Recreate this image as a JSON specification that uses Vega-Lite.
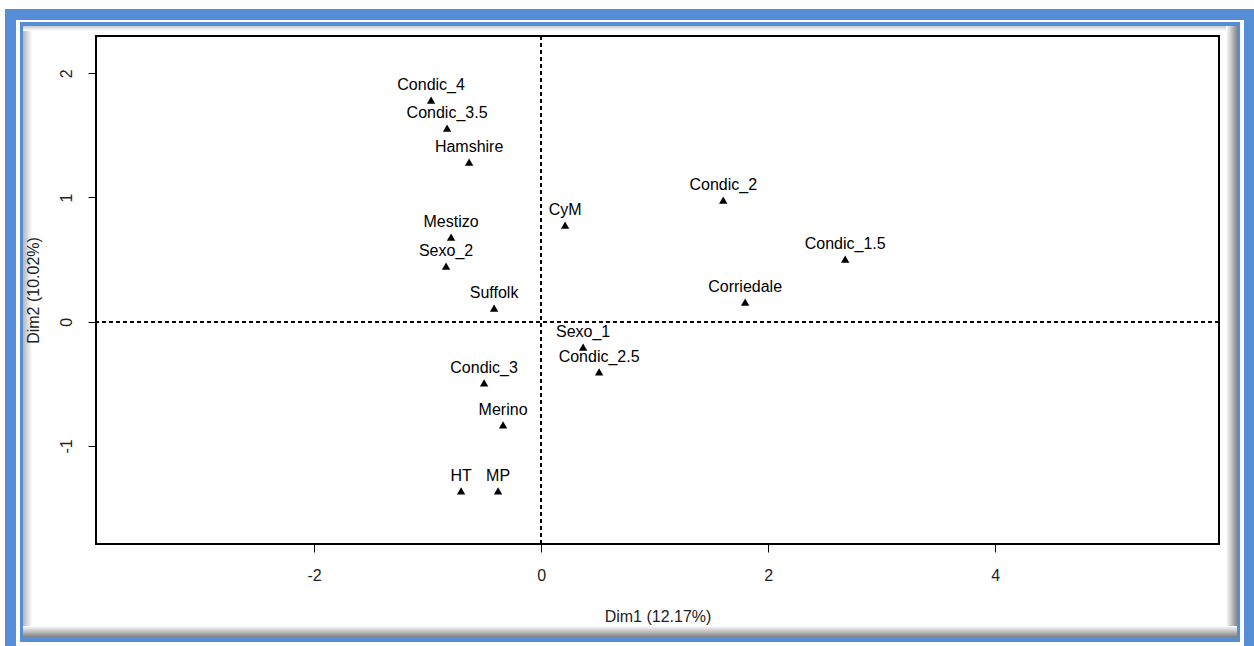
{
  "$schema": "https://vega.github.io/schema/vega-lite/v6.json",
  "width": 1123,
  "height": 508,
  "autosize": {"type": "none"},
  "padding": {"left": 96, "top": 36, "right": 35, "bottom": 102},
  "background": "white",
  "config": {"view": {"stroke": null}},
  "data": {"values": [
    {"label": "Condic_4", "x": -0.969, "y": 1.784},
    {"label": "Condic_3.5", "x": -0.828, "y": 1.558},
    {"label": "Hamshire", "x": -0.634, "y": 1.285},
    {"label": "Condic_2", "x": 1.604, "y": 0.979},
    {"label": "Condic_1.5", "x": 2.678, "y": 0.504},
    {"label": "Corriedale", "x": 1.797, "y": 0.158},
    {"label": "CyM", "x": 0.211, "y": 0.778},
    {"label": "Mestizo", "x": -0.793, "y": 0.681},
    {"label": "Sexo_2", "x": -0.837, "y": 0.448},
    {"label": "Suffolk", "x": -0.414, "y": 0.110},
    {"label": "Sexo_1", "x": 0.370, "y": -0.204},
    {"label": "Condic_2.5", "x": 0.511, "y": -0.405},
    {"label": "Condic_3", "x": -0.502, "y": -0.493},
    {"label": "Merino", "x": -0.335, "y": -0.831},
    {"label": "HT", "x": -0.705, "y": -1.362},
    {"label": "MP", "x": -0.379, "y": -1.362}
  ]},
  "encoding": {
    "x": {"field": "x", "type": "quantitative", "scale": {"domain": [-3.92, 5.97], "nice": false, "zero": false},
      "axis": {"values": [-2, 0, 2, 4], "labelExpr": "'' + datum.value", "title": "Dim1 (12.17%)", "grid": false, "domain": false,
        "ticks": true, "tickSize": 8, "tickColor": "black", "tickWidth": 1, "labelFont": "Liberation Sans", "labelFontSize": 16, "labelColor": "#222222",
        "labelPadding": 15, "titleFont": "Liberation Sans", "titleFontSize": 16, "titleFontWeight": "normal", "titleColor": "#222222", "titlePadding": 25, "zindex": 1}},
    "y": {"field": "y", "type": "quantitative", "scale": {"domain": [-1.79, 2.30], "nice": false, "zero": false},
      "axis": {"values": [-1, 0, 1, 2], "labelExpr": "'' + datum.value", "title": "Dim2 (10.02%)", "grid": false, "domain": false,
        "ticks": true, "tickSize": 8, "tickColor": "black", "tickWidth": 1, "labelFont": "Liberation Sans", "labelFontSize": 16, "labelColor": "#222222",
        "labelAngle": -90, "labelAlign": "center", "labelBaseline": "bottom", "labelPadding": 14,
        "titleFont": "Liberation Sans", "titleFontSize": 16, "titleFontWeight": "normal", "titleColor": "#222222", "titlePadding": 17, "zindex": 1}}
  },
  "layer": [
    {
      "mark": {"type": "rect", "color": "#558ED5"},
      "encoding": {
        "x": {"datum": -4.721, "type": "quantitative"},
        "x2": {"datum": 6.5},
        "y": {"datum": 2.515, "type": "quantitative"},
        "y2": {"datum": -3.2}
      }
    },
    {
      "mark": {"type": "rect", "color": "#ffffff"},
      "encoding": {
        "x": {"datum": -4.624, "type": "quantitative"},
        "x2": {"datum": 6.190},
        "y": {"datum": 2.429, "type": "quantitative"},
        "y2": {"datum": -3.3}
      }
    },
    {
      "mark": {"type": "rect", "color": "#558ED5"},
      "encoding": {
        "x": {"datum": -4.589, "type": "quantitative"},
        "x2": {"datum": 6.155},
        "y": {"datum": 2.413, "type": "quantitative"},
        "y2": {"datum": -2.579}
      }
    },
    {
      "mark": {"type": "rect", "color": "#ffffff"},
      "encoding": {
        "x": {"datum": -4.560, "type": "quantitative"},
        "x2": {"datum": 6.126},
        "y": {"datum": 2.381, "type": "quantitative"},
        "y2": {"datum": -2.539}
      }
    },
    {
      "mark": {"type": "rect", "color": {"gradient": "linear", "x1": 0, "y1": 0, "x2": 1, "y2": 0, "stops": [{"offset": 0, "color": "#b8b8b8"}, {"offset": 1, "color": "#ffffff"}]}},
      "encoding": {
        "x": {"datum": -4.560, "type": "quantitative"},
        "x2": {"datum": -4.483},
        "y": {"datum": 2.381, "type": "quantitative"},
        "y2": {"datum": -2.539}
      }
    },
    {
      "mark": {"type": "rect", "color": {"gradient": "linear", "x1": 0, "y1": 0, "x2": 0, "y2": 1, "stops": [{"offset": 0, "color": "#c8c8c8"}, {"offset": 1, "color": "#ffffff"}]}},
      "encoding": {
        "x": {"datum": -4.560, "type": "quantitative"},
        "x2": {"datum": 6.126},
        "y": {"datum": 2.381, "type": "quantitative"},
        "y2": {"datum": 2.341}
      }
    },
    {
      "mark": {"type": "rect", "color": {"gradient": "linear", "x1": 0, "y1": 0, "x2": 1, "y2": 0, "stops": [{"offset": 0, "color": "#ffffff"}, {"offset": 1, "color": "#8c8c8c"}]}},
      "encoding": {
        "x": {"datum": 6.032, "type": "quantitative"},
        "x2": {"datum": 6.126},
        "y": {"datum": 2.381, "type": "quantitative"},
        "y2": {"datum": -2.539}
      }
    },
    {
      "mark": {"type": "rect", "color": {"gradient": "linear", "x1": 0, "y1": 0, "x2": 0, "y2": 1, "stops": [{"offset": 0, "color": "#ffffff"}, {"offset": 1, "color": "#808080"}]}},
      "encoding": {
        "x": {"datum": -4.560, "type": "quantitative"},
        "x2": {"datum": 6.126},
        "y": {"datum": -2.450, "type": "quantitative"},
        "y2": {"datum": -2.539}
      }
    },
    {
      "mark": {"type": "rect", "filled": false, "stroke": "black", "strokeWidth": 1.2},
      "encoding": {
        "x": {"datum": -3.92, "type": "quantitative"},
        "x2": {"datum": 5.97},
        "y": {"datum": -1.79, "type": "quantitative"},
        "y2": {"datum": 2.30}
      }
    },
    {
      "mark": {"type": "rule", "color": "black", "strokeWidth": 1, "strokeDash": [4, 3]},
      "encoding": {
        "x": {"datum": 0, "type": "quantitative"},
        "y": null
      }
    },
    {
      "mark": {"type": "rule", "color": "black", "strokeWidth": 1, "strokeDash": [4, 3]},
      "encoding": {
        "y": {"datum": 0, "type": "quantitative"},
        "x": null
      }
    },
    {
      "mark": {"type": "point", "shape": "triangle-up", "filled": true, "color": "black", "size": 70, "opacity": 1}
    },
    {
      "mark": {"type": "text", "baseline": "middle", "align": "center", "dy": -15, "font": "Liberation Sans", "fontSize": 16, "color": "black"},
      "encoding": {
        "text": {"field": "label"}
      }
    }
  ]
}
